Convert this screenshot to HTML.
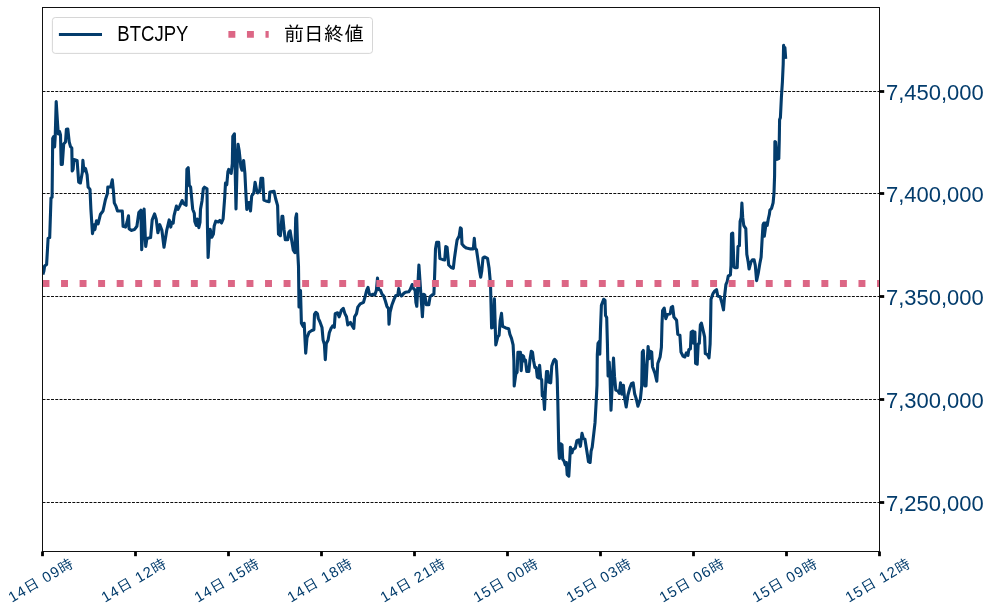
<!DOCTYPE html>
<html lang="ja">
<head>
<meta charset="utf-8">
<title>BTCJPY</title>
<style>
html,body{margin:0;padding:0;background:#fff;}
body{width:991px;height:613px;overflow:hidden;}
svg{display:block;will-change:transform;}
text{font-family:"Liberation Sans","IPAGothic",sans-serif;}
</style>
</head>
<body>
<svg width="991" height="613" viewBox="0 0 991 613">
<rect x="0" y="0" width="991" height="613" fill="#ffffff"/>
<g stroke="#000" stroke-width="0.95" stroke-dasharray="2.95 1.31" fill="none">
<line x1="42.5" y1="91.5" x2="879.5" y2="91.5"/>
<line x1="42.5" y1="193.5" x2="879.5" y2="193.5"/>
<line x1="42.5" y1="296.5" x2="879.5" y2="296.5"/>
<line x1="42.5" y1="399.5" x2="879.5" y2="399.5"/>
<line x1="42.5" y1="502.5" x2="879.5" y2="502.5"/>
</g>
<clipPath id="ax"><rect x="42.5" y="7.5" width="837.0" height="544.0"/></clipPath>
<polyline clip-path="url(#ax)" points="43.3,273.0 43.9,271.0 44.6,266.0 46.6,264.5 48.1,238.4 49.7,237.6 51.0,198.1 52.1,197.3 52.7,138.5 53.7,136.5 54.6,147.0 55.2,137.0 56.2,101.6 57.6,124.0 58.3,134.0 59.5,131.5 60.5,135.0 61.2,164.4 62.3,164.4 63.7,144.0 65.5,142.0 66.4,129.3 67.8,129.0 69.2,141.8 70.5,146.6 71.8,148.0 72.2,170.9 73.1,169.3 73.9,159.6 77.1,160.4 78.7,182.2 80.4,183.0 82.3,172.5 82.9,160.4 83.9,170.9 85.5,168.5 87.1,174.9 88.1,187.0 90.0,189.4 90.9,209.4 92.5,233.6 94.1,224.7 94.9,229.6 96.5,220.7 98.1,223.9 100.5,214.2 103.0,211.0 105.4,199.7 107.5,193.2 107.8,187.0 110.7,187.0 112.3,179.8 113.5,191.9 114.3,202.9 115.9,206.1 117.5,211.0 122.3,211.0 123.1,226.3 125.6,227.1 127.2,221.5 128.5,215.8 129.1,228.7 131.2,230.4 134.4,229.6 136.9,226.3 138.8,212.6 140.9,210.2 141.7,249.7 144.1,209.1 145.7,246.5 146.9,238.4 150.6,237.6 152.2,219.9 154.6,213.9 156.2,219.1 157.9,232.8 159.8,224.7 161.9,230.4 164.0,247.3 166.7,230.4 169.2,219.9 170.8,227.1 171.6,222.3 173.2,223.1 174.0,215.8 176.4,206.1 178.0,209.4 179.7,206.1 182.1,200.5 183.7,203.7 186.1,205.3 186.9,169.3 188.2,167.7 189.3,185.4 190.6,187.0 191.6,197.7 192.7,209.2 194.3,213.3 194.8,221.4 196.3,225.5 197.3,219.0 198.8,227.6 200.0,222.4 200.5,209.2 202.0,201.0 203.3,188.8 204.5,187.2 207.0,188.8 207.4,224.4 208.1,257.5 209.4,235.7 210.2,229.2 211.8,237.3 213.4,234.1 214.2,226.0 215.8,221.1 218.3,222.0 219.9,220.5 221.5,223.0 223.1,219.0 224.7,197.7 225.5,183.1 226.8,184.7 227.9,171.8 228.7,169.4 231.2,173.4 232.3,163.7 232.8,136.3 234.4,133.9 236.0,209.0 237.1,165.4 238.1,144.4 239.2,150.8 240.9,167.0 242.0,170.2 243.6,160.5 244.9,173.4 245.7,189.6 246.8,209.5 248.9,202.5 250.5,211.0 251.7,196.0 253.8,192.8 255.1,182.3 256.5,189.6 257.8,192.8 259.7,191.2 261.0,178.3 262.7,178.3 263.9,200.1 265.9,200.9 269.1,201.7 269.9,192.0 274.0,191.2 275.6,198.5 277.6,205.7 278.5,234.1 280.4,235.7 282.0,216.3 282.8,216.3 284.0,229.2 285.3,239.7 287.7,239.7 288.8,232.4 290.1,230.8 291.7,240.5 293.3,250.2 294.9,252.6 295.7,217.9 296.6,213.9 297.8,253.4 298.5,266.4 299.0,307.0 300.5,290.5 301.4,323.3 303.2,326.5 304.2,323.3 305.7,353.1 307.0,337.8 309.1,332.2 311.8,330.5 313.9,329.7 314.5,314.4 315.8,312.3 317.4,313.6 318.3,318.4 319.9,321.7 322.0,327.5 323.1,340.1 324.4,344.2 325.3,359.7 326.3,343.4 328.1,340.1 329.3,332.8 330.9,328.7 332.6,326.0 334.3,327.3 335.2,313.8 337.6,312.8 339.2,316.8 341.3,310.4 343.3,308.4 344.9,313.6 346.5,316.8 347.8,324.9 350.5,322.5 351.7,324.9 353.8,328.4 354.6,316.8 356.5,313.6 357.8,307.1 360.2,303.9 363.5,302.3 365.1,296.6 366.7,290.2 368.0,287.4 369.4,294.2 371.5,295.0 373.1,294.2 374.8,295.0 376.4,290.2 377.5,278.1 378.5,289.4 380.4,290.2 382.0,294.2 383.6,295.8 385.3,300.7 386.9,306.3 388.5,308.7 389.0,324.1 390.1,312.0 392.0,304.7 394.1,299.1 395.7,295.8 397.8,295.0 398.7,288.6 399.8,294.2 401.4,295.8 403.8,293.4 405.4,292.3 408.7,291.8 410.3,289.4 412.2,284.5 413.5,288.6 415.1,290.2 415.9,302.3 416.8,306.3 418.9,265.0 422.4,316.8 423.7,294.2 424.8,295.0 426.4,304.7 428.8,304.7 430.1,296.6 432.1,295.0 433.9,294.1 434.5,279.6 435.5,248.9 436.6,242.4 438.7,242.4 439.9,258.6 442.3,259.4 444.7,259.9 445.8,246.5 447.1,247.3 448.7,265.0 451.2,267.5 453.3,268.3 454.4,258.6 456.0,247.3 457.1,240.0 459.2,236.0 460.4,227.9 461.3,228.7 462.0,244.1 464.1,246.5 466.5,248.1 470.5,248.9 473.3,248.9 474.3,238.4 475.1,248.1 476.5,249.7 477.8,258.6 479.4,269.9 480.7,277.2 481.8,270.7 483.0,257.8 484.6,257.0 487.5,258.3 489.1,268.3 490.5,284.0 491.6,327.9 493.2,327.1 494.4,298.9 495.8,344.9 497.8,336.8 499.1,335.2 500.2,320.7 501.5,313.4 502.6,326.3 505.8,327.9 508.7,328.7 509.9,334.4 511.5,338.4 513.1,344.9 513.9,361.0 514.2,386.0 515.8,374.0 517.1,372.3 517.9,352.2 520.4,352.2 521.2,370.7 522.3,355.4 523.6,356.2 524.4,361.0 525.5,360.2 526.8,371.5 528.8,371.5 530.0,359.4 531.3,351.3 532.5,352.2 533.6,361.0 534.9,367.5 536.2,367.5 537.3,377.2 538.9,378.0 539.6,365.3 540.7,378.5 541.7,379.8 542.3,396.0 543.3,392.5 544.5,409.4 545.4,390.0 546.5,371.6 547.7,371.6 548.6,382.0 550.7,382.8 551.8,365.9 553.5,361.0 554.6,359.4 556.2,361.0 557.2,378.8 557.8,401.1 558.8,449.6 559.4,458.5 560.7,443.9 562.0,444.7 562.7,459.3 564.0,460.9 565.2,464.9 566.4,462.5 567.2,474.6 568.8,476.2 569.6,462.5 570.4,447.2 572.0,452.8 572.8,449.6 575.3,448.0 576.9,440.7 578.8,439.9 580.4,446.3 582.0,433.4 583.3,438.3 584.9,439.1 586.6,449.6 588.5,461.7 590.1,462.5 591.1,451.2 592.2,447.2 593.8,433.4 595.0,422.9 596.2,401.1 597.0,385.0 597.3,354.6 598.0,343.3 599.2,341.5 599.8,354.3 600.5,328.8 601.4,305.3 603.7,299.3 605.0,300.2 605.5,315.5 606.7,317.6 607.4,343.1 608.1,376.0 609.2,362.0 610.0,376.0 611.0,410.3 612.6,376.4 613.5,358.0 614.5,376.4 615.8,390.1 617.8,390.9 619.4,393.3 620.5,382.8 621.8,394.1 623.4,385.2 624.5,397.3 626.2,407.0 627.8,395.7 629.9,387.7 631.5,383.6 633.1,382.8 634.7,394.1 636.3,399.0 637.9,406.2 640.4,399.0 641.7,386.0 642.3,352.1 643.3,350.5 644.9,386.0 646.0,386.0 647.1,363.4 648.1,346.5 649.2,358.6 650.4,351.3 651.7,352.1 652.5,366.7 654.9,373.1 656.8,381.2 657.8,363.4 660.1,357.0 661.4,347.3 662.0,324.0 662.6,310.6 664.2,308.1 665.8,318.6 667.4,314.6 670.2,313.8 671.3,307.3 672.6,306.5 673.9,317.0 676.6,320.3 677.8,334.4 679.9,335.2 681.0,352.1 683.1,356.2 684.8,357.0 686.4,352.9 688.0,355.4 688.8,349.7 690.4,348.9 691.2,332.0 692.8,331.1 693.6,343.3 694.9,332.0 695.6,363.4 697.2,364.2 698.2,344.1 699.3,343.3 700.4,324.7 701.4,323.1 703.3,331.1 704.6,336.8 705.3,353.7 707.4,354.6 709.0,357.8 710.1,344.1 710.6,324.0 711.0,299.3 713.0,293.6 714.6,291.2 716.5,289.6 717.8,296.0 720.2,296.8 721.8,302.5 723.5,309.8 724.6,296.0 725.9,284.7 727.2,281.5 728.3,275.9 730.4,275.0 731.0,265.4 731.5,233.9 732.7,233.1 734.0,267.0 735.6,267.8 737.2,267.8 738.0,246.5 739.4,245.6 740.1,221.5 741.2,217.4 741.9,203.0 742.7,217.4 743.8,225.6 745.8,228.7 746.8,254.2 748.2,262.0 749.1,269.0 750.9,262.1 752.5,259.7 754.1,259.7 755.3,265.4 756.6,280.7 758.2,273.4 759.8,263.7 761.1,257.3 762.2,237.9 763.0,225.0 763.9,223.0 764.3,236.3 765.4,228.2 766.0,223.0 767.2,225.4 768.3,219.0 769.4,214.1 769.9,210.1 771.5,208.5 773.1,202.8 774.0,193.1 774.6,175.4 774.9,141.5 775.6,142.0 776.9,159.4 778.8,158.6 779.3,139.0 779.6,119.6 780.4,117.6 781.4,97.1 782.4,82.0 783.2,64.2 783.6,45.4 784.2,52.0 784.9,47.5 785.6,57.3" fill="none" stroke="#033c6c" stroke-width="3.1" stroke-linejoin="round" stroke-linecap="square"/>
<line x1="42.5" y1="283.5" x2="879.5" y2="283.5" stroke="#dc6685" stroke-width="6.9" stroke-dasharray="6.94 11.605"/>
<rect x="42.5" y="7.5" width="837.0" height="544.0" fill="none" stroke="#111" stroke-width="1"/>
<g stroke="#000" stroke-width="2.8">
<line x1="42.5" y1="551.5" x2="42.5" y2="556.2"/>
<line x1="135.5" y1="551.5" x2="135.5" y2="556.2"/>
<line x1="228.5" y1="551.5" x2="228.5" y2="556.2"/>
<line x1="321.5" y1="551.5" x2="321.5" y2="556.2"/>
<line x1="414.5" y1="551.5" x2="414.5" y2="556.2"/>
<line x1="507.5" y1="551.5" x2="507.5" y2="556.2"/>
<line x1="600.5" y1="551.5" x2="600.5" y2="556.2"/>
<line x1="693.5" y1="551.5" x2="693.5" y2="556.2"/>
<line x1="786.5" y1="551.5" x2="786.5" y2="556.2"/>
<line x1="879.5" y1="551.5" x2="879.5" y2="556.2"/>
<line x1="879.5" y1="91.5" x2="884.2" y2="91.5"/>
<line x1="879.5" y1="193.5" x2="884.2" y2="193.5"/>
<line x1="879.5" y1="296.5" x2="884.2" y2="296.5"/>
<line x1="879.5" y1="399.5" x2="884.2" y2="399.5"/>
<line x1="879.5" y1="502.5" x2="884.2" y2="502.5"/>
</g>
<g fill="#033c6c" font-size="21.5">
<text class="yl" x="886" y="100.00" textLength="97.8" lengthAdjust="spacingAndGlyphs">7,450,000</text>
<text class="yl" x="886" y="202.00" textLength="97.8" lengthAdjust="spacingAndGlyphs">7,400,000</text>
<text class="yl" x="886" y="305.30" textLength="97.8" lengthAdjust="spacingAndGlyphs">7,350,000</text>
<text class="yl" x="886" y="408.10" textLength="97.8" lengthAdjust="spacingAndGlyphs">7,300,000</text>
<text class="yl" x="886" y="511.00" textLength="97.8" lengthAdjust="spacingAndGlyphs">7,250,000</text>
</g>
<g fill="#033c6c" font-size="14.7" text-anchor="middle">
<text class="xl" transform="translate(40.7,580.4) rotate(-30)" y="5" textLength="72.2" lengthAdjust="spacing">14日 09時</text>
<text class="xl" transform="translate(133.7,580.4) rotate(-30)" y="5" textLength="72.2" lengthAdjust="spacing">14日 12時</text>
<text class="xl" transform="translate(226.7,580.4) rotate(-30)" y="5" textLength="72.2" lengthAdjust="spacing">14日 15時</text>
<text class="xl" transform="translate(319.7,580.4) rotate(-30)" y="5" textLength="72.2" lengthAdjust="spacing">14日 18時</text>
<text class="xl" transform="translate(412.7,580.4) rotate(-30)" y="5" textLength="72.2" lengthAdjust="spacing">14日 21時</text>
<text class="xl" transform="translate(505.7,580.4) rotate(-30)" y="5" textLength="72.2" lengthAdjust="spacing">15日 00時</text>
<text class="xl" transform="translate(598.7,580.4) rotate(-30)" y="5" textLength="72.2" lengthAdjust="spacing">15日 03時</text>
<text class="xl" transform="translate(691.7,580.4) rotate(-30)" y="5" textLength="72.2" lengthAdjust="spacing">15日 06時</text>
<text class="xl" transform="translate(784.7,580.4) rotate(-30)" y="5" textLength="72.2" lengthAdjust="spacing">15日 09時</text>
<text class="xl" transform="translate(877.7,580.4) rotate(-30)" y="5" textLength="72.2" lengthAdjust="spacing">15日 12時</text>
</g>
<rect x="52.4" y="17.5" width="320.1" height="35.9" rx="2.9" ry="2.9" fill="#fff" fill-opacity="0.8" stroke="#ccc" stroke-opacity="0.8" stroke-width="1"/>
<line x1="60.4" y1="34.5" x2="100.5" y2="34.5" stroke="#033c6c" stroke-width="3" stroke-linecap="square"/>
<text id="lg1" x="117.3" y="40.6" font-size="21.8" fill="#000" textLength="71.1" lengthAdjust="spacingAndGlyphs">BTCJPY</text>
<line x1="228.4" y1="34.4" x2="268.7" y2="34.4" stroke="#dc6685" stroke-width="6.9" stroke-dasharray="6.94 11.605"/>
<text id="lg2" x="284.1" y="41.05" font-size="19.95" fill="#000">前日終値</text>
</svg>
</body>
</html>
